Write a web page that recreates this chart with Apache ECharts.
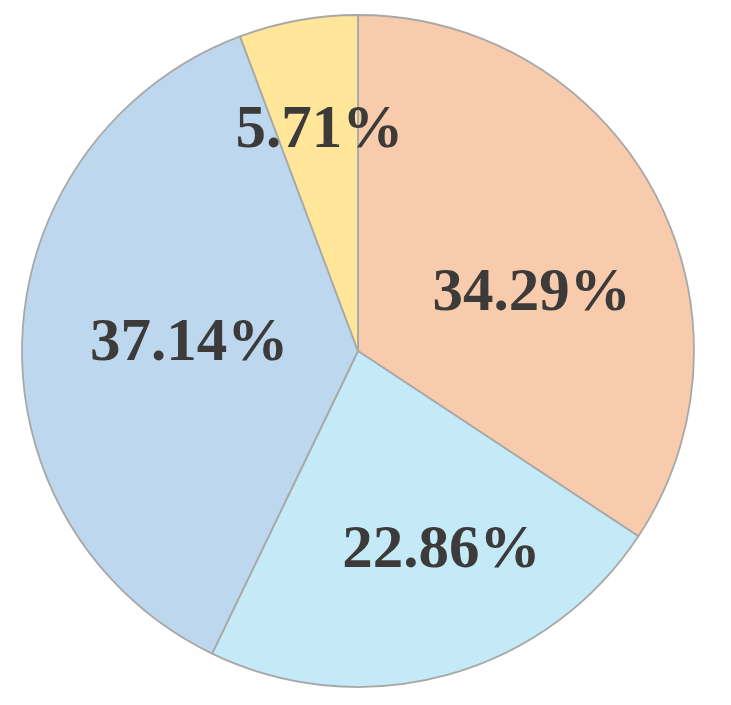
<!DOCTYPE html>
<html><head><meta charset="utf-8">
<script src="https://cdn.jsdelivr.net/npm/echarts@6/dist/echarts.min.js"></script>
<style>html,body{margin:0;padding:0;background:#fff}#c{width:731px;height:705px}</style>
</head><body><div id="c"></div>
<script>
const categories = ['A', 'B', 'C', 'D'];
const values = [34.29, 22.86, 37.14, 5.71];
const colors = ['#F8CBAD', '#C4EAF8', '#BDD7EE', '#FFE699'];
const labelOffsets = [[23, 24], [38, 35], [2, 1], [-8, -52]];

const chart = echarts.init(document.getElementById('c'), null, {renderer: 'canvas'});
chart.setOption({
  animation: false,
  series: [{
    type: 'pie',
    center: [358, 351],
    radius: [0, 336],
    startAngle: 90,
    clockwise: true,
    avoidLabelOverlap: false,
    itemStyle: {borderColor: '#A8A8A8', borderWidth: 1.8},
    label: {
      position: 'inside',
      formatter: p => p.value.toFixed(2) + '%',
      fontFamily: '"Liberation Serif", "Times New Roman", serif',
      fontWeight: 'bold',
      fontSize: 61,
      color: '#3C3B3A'
    },
    labelLine: {show: false},
    emphasis: {disabled: true},
    data: categories.map((c, i) => ({
      name: c,
      value: values[i],
      itemStyle: {color: colors[i]},
      label: {offset: labelOffsets[i]}
    }))
  }]
});
</script></body></html>
